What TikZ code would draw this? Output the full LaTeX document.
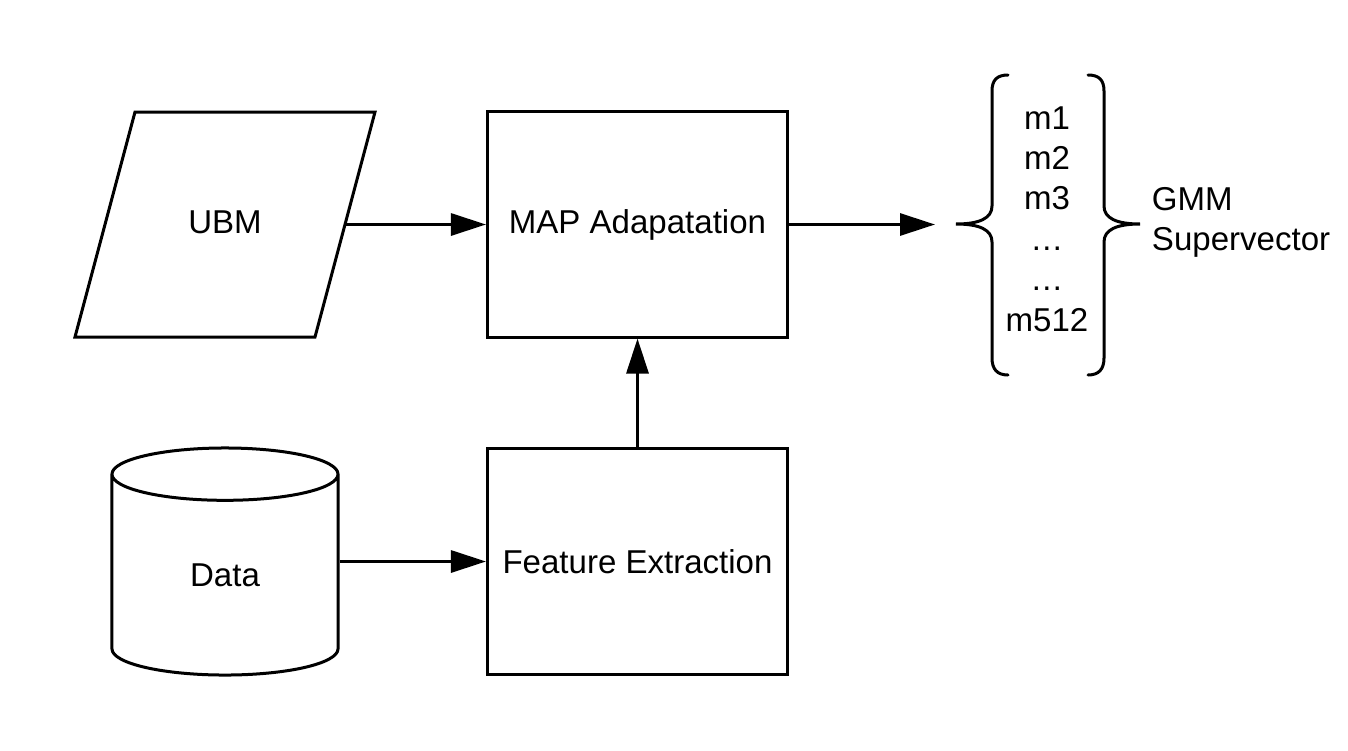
\documentclass[tikz,border=0pt]{standalone}
\usepackage{fontspec}
\setmainfont{Liberation Sans}
\usepackage{tikz}
\usetikzlibrary{arrows.meta, positioning, shapes.geometric}
\usepackage{xcolor}
\definecolor{ink}{HTML}{000000}

\tikzset{
  blk/.style={draw=ink, line width=0.075cm, minimum width=7.5cm, minimum height=5.625cm, inner sep=0pt},
  arr/.style={draw=ink, line width=0.075cm, -{Triangle[length=0.875cm, width=0.55cm]}},
  brc/.style={draw=ink, line width=0.075cm, line cap=round}
}

\begin{document}
\begin{tikzpicture}[x=0.025cm, y=-0.025cm, font=\fontsize{23.5}{28.5}\selectfont]
  \useasboundingbox (0,0) rectangle (1348,750);
  % inputs
  \draw[ink, line width=0.075cm] (135,112) -- (375,112) -- (315,337) -- (75,337) -- cycle;
  \node[minimum width=6cm, minimum height=5.625cm, inner sep=0pt] (ubm) at (225,222.5) {UBM};
  \node[draw=ink, line width=0.075cm, cylinder, shape border rotate=90, aspect=0.75,
    minimum width=5.65cm, minimum height=5.675cm, inner sep=0pt, anchor=shape center] (data) at (225,561.5) {Data};
  % processing
  \node[blk] (map) at (637.5,224.5) {MAP Adapatation};
  \node[blk] (feat) at (637.5,561.5) {Feature Extraction};
  \coordinate (vecin) at (935,224.5);
  \draw[arr] (ubm.east |- map) -- (map);
  \draw[arr] (data.shape center -| data.east) -- (feat);
  \draw[arr] (feat) -- (map);
  \draw[arr] (map) -- (vecin);
  % supervector
  \foreach \i/\txt in {1/m1, 2/m2, 3/m3, 4/{\ldots}, 5/{\ldots}, 6/m512}{
    \node (m\i) at (1047,{121+(\i-1)*40.4}) {\strut\txt};
  }
  \draw[brc] (1008,75) .. controls (997,75) and (992,80) .. (992,91) -- (992,206)
    .. controls (992,218) and (980,224) .. (956,224)
    .. controls (980,224) and (992,230) .. (992,242) -- (992,358)
    .. controls (992,369) and (997,375) .. (1008,375);
  \draw[brc] (1088,75) .. controls (1099,75) and (1104,80) .. (1104,91) -- (1104,206)
    .. controls (1104,218) and (1116,224) .. (1140,224)
    .. controls (1116,224) and (1104,230) .. (1104,242) -- (1104,358)
    .. controls (1104,369) and (1099,375) .. (1088,375);
  \node[anchor=west, align=left] (gmm) at (1147,222) {GMM\\Supervector};
\end{tikzpicture}
\end{document}
